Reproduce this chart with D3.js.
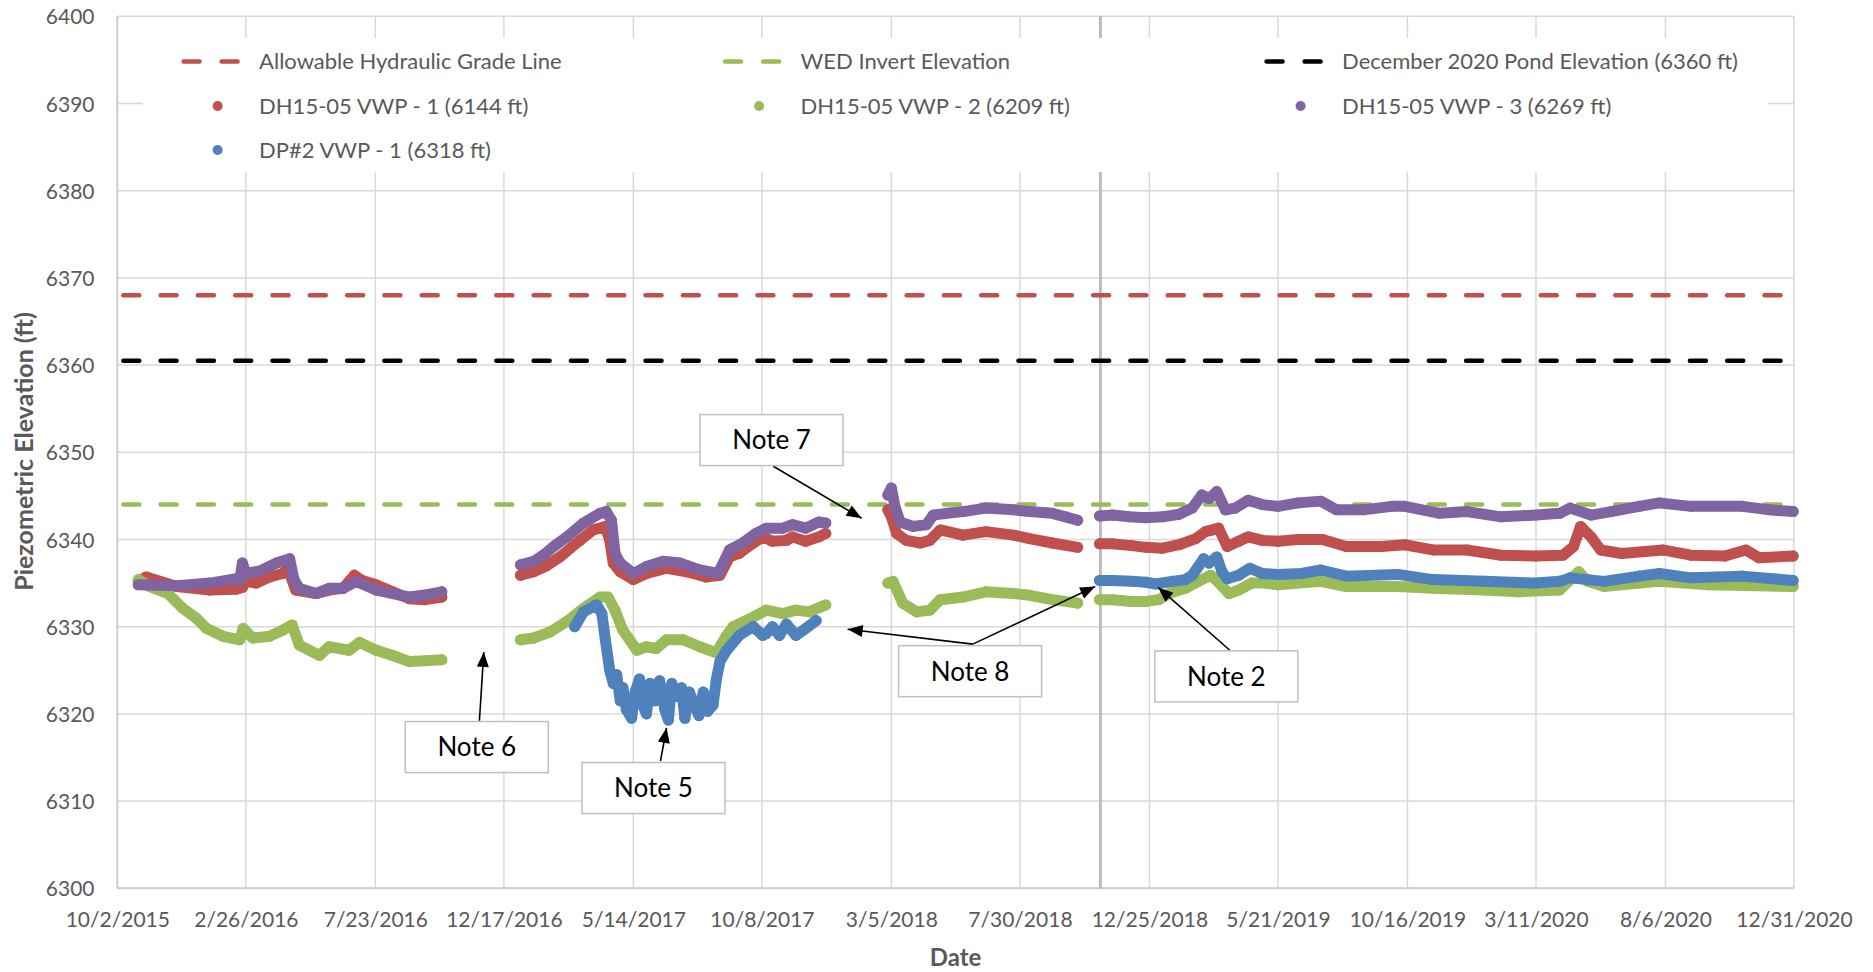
<!DOCTYPE html>
<html><head><meta charset="utf-8">
<script src="https://cdn.jsdelivr.net/npm/d3@7"></script>
<style>
html,body{margin:0;padding:0;background:#fff;}
svg{display:block;font-family:Lato,"Open Sans",sans-serif;}
</style>
</head><body>
<svg id="chart" width="1873" height="972"></svg>
<script>
// ---------------- data ----------------
const xTickLabels = ["10/2/2015","2/26/2016","7/23/2016","12/17/2016","5/14/2017","10/8/2017","3/5/2018","7/30/2018","12/25/2018","5/21/2019","10/16/2019","3/11/2020","8/6/2020","12/31/2020"];
const yTicks = [6300,6310,6320,6330,6340,6350,6360,6370,6380,6390,6400];

const refNames = ["Allowable Hydraulic Grade Line","WED Invert Elevation","December 2020 Pond Elevation (6360 ft)"];
const refValues = [6368.0, 6344.0, 6360.5];

const seriesNames = ["DH15-05 VWP - 1 (6144 ft)","DH15-05 VWP - 2 (6209 ft)","DH15-05 VWP - 3 (6269 ft)","DP#2 VWP - 1 (6318 ft)"];

const vwp1 = [
["2015-10-26",6335.2],["2015-11-04",6335.7],["2015-12-09",6334.6],["2016-01-16",6334.2],["2016-02-15",6334.3],["2016-02-22",6334.5],["2016-02-26",6335.2],["2016-03-09",6335.0],["2016-03-24",6335.7],["2016-04-08",6336.1],["2016-04-14",6336.7],["2016-04-23",6334.2],["2016-05-16",6333.8],["2016-05-31",6334.2],["2016-06-16",6334.4],["2016-06-29",6335.9],["2016-07-08",6335.3],["2016-07-24",6334.8],["2016-08-12",6334.0],["2016-08-31",6333.2],["2016-09-18",6333.1],["2016-10-07",6333.4],
["2016-12-01",null],
["2017-01-05",6335.9],["2017-01-20",6336.3],["2017-02-04",6337.0],["2017-02-19",6338.0],["2017-03-14",6339.9],["2017-03-29",6341.1],["2017-04-12",6341.5],["2017-04-17",6339.9],["2017-04-21",6337.3],["2017-04-29",6336.3],["2017-05-14",6335.4],["2017-05-29",6336.1],["2017-06-21",6336.7],["2017-07-14",6336.3],["2017-08-05",6335.7],["2017-08-21",6335.9],["2017-09-01",6338.0],["2017-09-12",6338.4],["2017-09-28",6339.6],["2017-10-09",6340.3],["2017-10-20",6339.8],["2017-11-05",6339.9],["2017-11-12",6340.3],["2017-11-27",6339.8],["2017-12-12",6340.3],["2017-12-20",6340.7],
["2018-02-01",null],
["2018-03-01",6343.4],["2018-03-05",6342.6],["2018-03-11",6340.7],["2018-03-22",6339.9],["2018-04-07",6339.6],["2018-04-18",6339.9],["2018-04-30",6341.1],["2018-05-26",6340.5],["2018-06-21",6340.9],["2018-07-23",6340.5],["2018-08-10",6340.1],["2018-09-05",6339.6],["2018-10-04",6339.1],
["2018-10-20",null],
["2018-10-29",6339.5],["2018-11-13",6339.5],["2018-12-05",6339.3],["2018-12-21",6339.1],["2019-01-09",6339.0],["2019-01-28",6339.4],["2019-02-16",6340.1],["2019-02-27",6340.9],["2019-03-07",6341.1],["2019-03-14",6341.3],["2019-03-24",6339.2],["2019-04-06",6339.8],["2019-04-17",6340.3],["2019-05-03",6339.9],["2019-05-21",6339.8],["2019-06-13",6340.0],["2019-07-11",6340.0],["2019-08-07",6339.2],["2019-09-16",6339.2],["2019-10-13",6339.4],["2019-11-14",6338.8],["2019-12-23",6338.8],["2020-01-31",6338.2],["2020-03-11",6338.1],["2020-04-11",6338.2],["2020-04-23",6339.2],["2020-05-01",6341.5],["2020-05-13",6340.3],["2020-05-24",6338.8],["2020-06-17",6338.4],["2020-08-03",6338.8],["2020-09-04",6338.2],["2020-10-13",6338.1],["2020-11-06",6338.8],["2020-11-21",6337.9],["2020-12-30",6338.1]
];

const vwp2 = [
["2015-10-26",6335.4],["2015-11-08",6334.6],["2015-11-29",6333.8],["2015-12-16",6332.1],["2015-12-31",6331.0],["2016-01-12",6329.8],["2016-01-31",6328.9],["2016-02-19",6328.5],["2016-02-23",6329.8],["2016-03-05",6328.7],["2016-03-24",6328.9],["2016-04-08",6329.6],["2016-04-19",6330.2],["2016-04-27",6327.9],["2016-05-20",6326.7],["2016-05-31",6327.7],["2016-06-23",6327.3],["2016-07-05",6328.2],["2016-07-24",6327.3],["2016-08-12",6326.7],["2016-08-31",6326.0],["2016-09-18",6326.1],["2016-10-07",6326.2],
["2016-12-01",null],
["2017-01-05",6328.5],["2017-01-20",6328.7],["2017-02-08",6329.4],["2017-02-27",6330.6],["2017-03-18",6332.1],["2017-04-06",6333.4],["2017-04-15",6333.4],["2017-04-23",6331.9],["2017-05-02",6329.6],["2017-05-18",6327.3],["2017-05-29",6327.7],["2017-06-09",6327.5],["2017-06-21",6328.5],["2017-07-10",6328.5],["2017-07-29",6327.7],["2017-08-17",6327.0],["2017-08-28",6328.9],["2017-09-05",6330.0],["2017-09-28",6331.1],["2017-10-13",6331.9],["2017-11-01",6331.5],["2017-11-16",6331.9],["2017-12-01",6331.7],["2017-12-20",6332.5],
["2018-02-01",null],
["2018-03-01",6335.0],["2018-03-07",6335.2],["2018-03-18",6332.7],["2018-04-03",6331.7],["2018-04-18",6331.9],["2018-04-30",6333.1],["2018-05-26",6333.4],["2018-06-21",6334.0],["2018-07-23",6333.8],["2018-08-10",6333.6],["2018-09-05",6333.1],["2018-10-04",6332.7],
["2018-10-20",null],
["2018-10-29",6333.1],["2018-11-13",6333.1],["2018-12-05",6332.9],["2018-12-21",6332.9],["2019-01-05",6333.1],["2019-01-16",6333.8],["2019-02-04",6334.4],["2019-02-19",6335.2],["2019-03-05",6335.9],["2019-03-10",6335.5],["2019-03-26",6333.8],["2019-04-06",6334.2],["2019-04-21",6335.0],["2019-05-06",6335.0],["2019-05-21",6334.8],["2019-07-09",6335.2],["2019-08-07",6334.6],["2019-10-05",6334.6],["2019-11-14",6334.4],["2020-01-12",6334.2],["2020-02-20",6334.0],["2020-04-07",6334.2],["2020-04-29",6336.3],["2020-05-09",6335.2],["2020-05-28",6334.6],["2020-07-07",6335.0],["2020-07-30",6335.2],["2020-09-24",6334.8],["2020-12-30",6334.6]
];

const vwp3 = [
["2015-10-26",6334.8],["2015-12-09",6334.7],["2016-01-16",6335.0],["2016-02-15",6335.5],["2016-02-19",6335.3],["2016-02-22",6337.3],["2016-02-26",6336.1],["2016-03-13",6336.4],["2016-04-01",6337.3],["2016-04-16",6337.8],["2016-04-21",6335.4],["2016-04-27",6334.4],["2016-05-16",6333.8],["2016-05-31",6334.4],["2016-06-16",6334.4],["2016-07-01",6335.2],["2016-07-24",6334.2],["2016-08-12",6333.8],["2016-08-31",6333.4],["2016-09-22",6333.7],["2016-10-07",6334.0],
["2016-12-01",null],
["2017-01-05",6337.1],["2017-01-20",6337.5],["2017-01-31",6338.2],["2017-02-12",6339.2],["2017-02-27",6340.3],["2017-03-18",6341.9],["2017-04-06",6343.0],["2017-04-13",6343.2],["2017-04-19",6342.2],["2017-04-23",6338.4],["2017-04-29",6337.3],["2017-05-14",6336.1],["2017-05-29",6336.9],["2017-06-17",6337.5],["2017-07-06",6337.3],["2017-07-29",6336.5],["2017-08-19",6336.1],["2017-09-01",6338.8],["2017-09-16",6339.6],["2017-10-01",6340.7],["2017-10-13",6341.3],["2017-11-01",6341.3],["2017-11-12",6341.7],["2017-11-27",6341.3],["2017-12-12",6342.0],["2017-12-20",6341.9],
["2018-02-01",null],
["2018-03-01",6345.1],["2018-03-05",6345.9],["2018-03-09",6343.8],["2018-03-15",6342.0],["2018-03-30",6341.5],["2018-04-14",6341.7],["2018-04-22",6342.8],["2018-05-07",6343.0],["2018-05-26",6343.2],["2018-06-21",6343.6],["2018-07-23",6343.4],["2018-08-10",6343.2],["2018-09-05",6343.0],["2018-09-20",6342.6],["2018-10-04",6342.2],
["2018-10-20",null],
["2018-10-29",6342.7],["2018-11-13",6342.8],["2018-12-02",6342.6],["2018-12-21",6342.5],["2019-01-09",6342.6],["2019-01-28",6342.9],["2019-02-12",6343.6],["2019-02-23",6345.1],["2019-03-03",6344.7],["2019-03-12",6345.5],["2019-03-22",6343.4],["2019-04-02",6343.6],["2019-04-17",6344.5],["2019-05-03",6344.0],["2019-05-21",6343.8],["2019-06-13",6344.2],["2019-07-09",6344.4],["2019-07-27",6343.4],["2019-08-27",6343.4],["2019-09-28",6343.8],["2019-10-13",6343.8],["2019-11-22",6343.0],["2019-12-23",6343.2],["2020-01-31",6342.6],["2020-03-11",6342.8],["2020-04-07",6343.0],["2020-04-19",6343.6],["2020-05-13",6342.8],["2020-06-05",6343.2],["2020-07-07",6343.8],["2020-07-30",6344.2],["2020-09-04",6343.8],["2020-11-02",6343.8],["2020-12-03",6343.4],["2020-12-30",6343.2]
];

const dp2 = [
["2017-03-08",6330.0],["2017-03-18",6331.7],["2017-04-02",6332.5],["2017-04-08",6331.5],["2017-04-12",6328.5],["2017-04-17",6325.0],["2017-04-21",6323.5],["2017-04-25",6324.5],["2017-04-29",6321.5],["2017-05-02",6323.0],["2017-05-06",6320.5],["2017-05-12",6319.5],["2017-05-16",6322.5],["2017-05-21",6324.0],["2017-05-25",6321.0],["2017-05-29",6320.0],["2017-06-02",6323.5],["2017-06-08",6321.5],["2017-06-13",6323.8],["2017-06-19",6320.5],["2017-06-23",6319.3],["2017-06-27",6323.5],["2017-07-02",6322.0],["2017-07-08",6323.0],["2017-07-12",6319.5],["2017-07-17",6322.5],["2017-07-23",6321.0],["2017-07-28",6319.8],["2017-08-02",6322.5],["2017-08-07",6320.3],["2017-08-13",6321.0],["2017-08-17",6324.0],["2017-08-21",6326.0],["2017-08-28",6327.2],["2017-09-12",6329.0],["2017-09-28",6330.0],["2017-10-09",6329.0],["2017-10-13",6329.2],["2017-10-20",6330.0],["2017-10-28",6329.0],["2017-11-05",6330.3],["2017-11-16",6329.0],["2017-11-27",6329.8],["2017-12-09",6330.7],
["2018-06-01",null],
["2018-10-29",6335.3],["2018-11-13",6335.3],["2018-12-05",6335.2],["2018-12-21",6335.1],["2019-01-01",6334.9],["2019-01-20",6335.2],["2019-02-04",6335.4],["2019-02-12",6335.9],["2019-02-19",6336.9],["2019-02-25",6337.8],["2019-03-03",6337.3],["2019-03-12",6338.0],["2019-03-18",6336.3],["2019-03-24",6335.5],["2019-04-06",6335.9],["2019-04-19",6336.7],["2019-05-03",6336.1],["2019-05-21",6336.0],["2019-06-17",6336.1],["2019-07-09",6336.5],["2019-08-07",6335.8],["2019-10-05",6336.0],["2019-11-14",6335.4],["2020-01-12",6335.2],["2020-03-11",6335.0],["2020-04-07",6335.2],["2020-04-19",6335.6],["2020-05-09",6335.4],["2020-05-28",6335.2],["2020-07-07",6335.8],["2020-07-30",6336.1],["2020-09-04",6335.6],["2020-11-02",6335.8],["2020-12-30",6335.3]
];

const markerLineDate = "2018-10-30";

const noteLabels = ["Note 7","Note 8","Note 2","Note 6","Note 5"];
const noteCenters = [["2017-10-19",6351.4],["2018-06-03",6324.9],["2019-03-23",6324.3],["2016-11-16",6316.2],["2017-06-06",6311.5]];
const arrowFrom = [["2017-10-21",6348.4],["2018-06-06",6328.0],["2018-06-06",6328.0],["2019-03-27",6327.3],["2016-11-19",6319.2],["2017-06-14",6314.6]];
const arrowTo   = [["2018-01-30",6342.43],["2018-01-14",6329.7],["2018-10-24",6334.6],["2019-01-04",6334.5],["2016-11-24",6327.1],["2017-06-21",6318.4]];

// ---------------- chart ----------------
const plot = {left:117.3, right:1794, top:16.3, bottom:888.3};
const parseTick = d3.timeParse("%m/%d/%Y");
const parseDate = d3.timeParse("%Y-%m-%d");
const textColor = "#595959";
const colors = {red:"#C0504D", green:"#9BBB59", purple:"#8064A2", blue:"#4F81BD", black:"#000000"};
const refColors = [colors.red, colors.green, colors.black];
const seriesColors = [colors.red, colors.green, colors.purple, colors.blue];
const seriesData = [vwp1, vwp2, vwp3, dp2];

const x = d3.scaleTime()
  .domain([parseTick(xTickLabels[0]), parseTick(xTickLabels[xTickLabels.length-1])])
  .range([plot.left, plot.right]);
const y = d3.scaleLinear().domain([6300, 6400]).range([plot.bottom, plot.top]);

const svg = d3.select("#chart");

// gridlines
const grid = svg.append("g");
grid.selectAll("line.h").data(yTicks).join("line")
  .attr("x1", plot.left).attr("x2", plot.right)
  .attr("y1", d => y(d)).attr("y2", d => y(d))
  .attr("stroke", "#d9d9d9").attr("stroke-width", 1.5);
grid.selectAll("line.v").data(xTickLabels).join("line")
  .attr("x1", d => x(parseTick(d))).attr("x2", d => x(parseTick(d)))
  .attr("y1", plot.top).attr("y2", plot.bottom)
  .attr("stroke", "#d9d9d9").attr("stroke-width", 1.5);
svg.append("line").attr("x1", plot.left).attr("x2", plot.left).attr("y1", plot.top).attr("y2", plot.bottom)
  .attr("stroke", "#cfcfcf").attr("stroke-width", 2);
svg.append("line").attr("x1", plot.left).attr("x2", plot.right).attr("y1", plot.bottom).attr("y2", plot.bottom)
  .attr("stroke", "#cfcfcf").attr("stroke-width", 2);

// marker vertical line
svg.append("line")
  .attr("x1", x(parseDate(markerLineDate))).attr("x2", x(parseDate(markerLineDate)))
  .attr("y1", plot.top).attr("y2", plot.bottom)
  .attr("stroke", "#bcbcbc").attr("stroke-width", 3);

// axes labels
const yAxis = d3.axisLeft(y).tickValues(yTicks).tickFormat(d3.format("d")).tickSize(0).tickPadding(22.8);
const gy = svg.append("g").attr("transform", `translate(${plot.left},0)`).call(yAxis);
gy.select(".domain").remove();
gy.selectAll("text").attr("fill", textColor).style("font-size", "21px").style("font-family", "Lato").attr("dy", "0.36em");

const xAxis = d3.axisBottom(x).tickValues(xTickLabels.map(parseTick))
  .tickFormat((d, i) => xTickLabels[i]).tickSize(0).tickPadding(0);
const gx = svg.append("g").attr("transform", `translate(0,${plot.bottom})`).call(xAxis);
gx.select(".domain").remove();
gx.selectAll("text").attr("fill", textColor).style("font-size", "21px").style("font-family", "Lato")
  .attr("y", 0).attr("dy", 0).attr("transform", "translate(0,39)");

// axis titles
svg.append("text").attr("transform", `translate(33,451.5) rotate(-90)`)
  .attr("text-anchor", "middle").attr("fill", textColor)
  .style("font-size", "25px").style("font-weight", "bold").text("Piezometric Elevation (ft)");
svg.append("text").attr("x", (plot.left+plot.right)/2).attr("y", 966)
  .attr("text-anchor", "middle").attr("fill", textColor)
  .style("font-size", "24px").style("font-weight", "bold").text("Date");

// reference lines
const domain = x.domain();
svg.append("g").selectAll("line").data(refValues).join("line")
  .attr("x1", x(domain[0])).attr("x2", x(domain[1]))
  .attr("y1", d => y(d)).attr("y2", d => y(d))
  .attr("stroke", (d, i) => refColors[i]).attr("stroke-width", 4.5)
  .attr("stroke-linecap", "round").attr("stroke-dasharray", "16 21.3").attr("stroke-dashoffset", -6);

// series
const line = d3.line().defined(d => d[1] != null)
  .x(d => x(parseDate(d[0]))).y(d => y(d[1])).curve(d3.curveLinear);
const gs = svg.append("g");
seriesData.forEach((data, i) => {
  const g = gs.append("g");
  g.append("path").datum(data).attr("d", line)
    .attr("fill", "none").attr("stroke", seriesColors[i]).attr("stroke-width", 11)
    .attr("stroke-linecap", "round").attr("stroke-linejoin", "round");
  g.selectAll("circle").data(data.filter(d => d[1] != null)).join("circle")
    .attr("cx", d => x(parseDate(d[0]))).attr("cy", d => y(d[1])).attr("r", 5.5)
    .attr("fill", seriesColors[i]);
});

// legend
const leg = svg.append("g");
leg.append("rect").attr("x", 143).attr("y", 38).attr("width", 1768-143).attr("height", 172-38).attr("fill", "#fff");
const legendItems = [
  {name: refNames[0], color: refColors[0], type: "dash"},
  {name: refNames[1], color: refColors[1], type: "dash"},
  {name: refNames[2], color: refColors[2], type: "dash"},
  {name: seriesNames[0], color: seriesColors[0], type: "dot"},
  {name: seriesNames[1], color: seriesColors[1], type: "dot"},
  {name: seriesNames[2], color: seriesColors[2], type: "dot"},
  {name: seriesNames[3], color: seriesColors[3], type: "dot"}
];
const colX = [181.6, 723.1, 1264.6], rowY = [61.5, 106, 150];
legendItems.forEach((it, k) => {
  const cx = colX[k % 3], cy = rowY[Math.floor(k / 3)];
  if (it.type === "dash") {
    leg.append("line").attr("x1", cx + 2).attr("x2", cx + 56).attr("y1", cy).attr("y2", cy)
      .attr("stroke", it.color).attr("stroke-width", 4.5).attr("stroke-linecap", "round")
      .attr("stroke-dasharray", "16 22");
  } else {
    leg.append("circle").attr("cx", cx + 36).attr("cy", cy).attr("r", 5).attr("fill", it.color);
  }
  leg.append("text").attr("x", cx + 77.5).attr("y", cy).attr("dy", "0.36em")
    .attr("fill", textColor).style("font-size", "22px").text(it.name);
});

// notes
const defs = svg.append("defs");
defs.append("marker").attr("id", "arrowhead").attr("viewBox", "-16 -7 17 14")
  .attr("refX", 0).attr("refY", 0).attr("markerWidth", 17).attr("markerHeight", 14)
  .attr("markerUnits", "userSpaceOnUse").attr("orient", "auto")
  .append("path").attr("d", "M0,0 L-15,-6 L-15,6 Z").attr("fill", "#000");
const gn = svg.append("g");
arrowFrom.forEach((f, i) => {
  const t = arrowTo[i];
  gn.append("line")
    .attr("x1", x(parseDate(f[0]))).attr("y1", y(f[1]))
    .attr("x2", x(parseDate(t[0]))).attr("y2", y(t[1]))
    .attr("stroke", "#000").attr("stroke-width", 1.6).attr("marker-end", "url(#arrowhead)");
});
const boxW = 143, boxH = 51;
noteLabels.forEach((lab, i) => {
  const cx = x(parseDate(noteCenters[i][0])), cy = y(noteCenters[i][1]);
  gn.append("rect").attr("x", cx - boxW/2).attr("y", cy - boxH/2).attr("width", boxW).attr("height", boxH)
    .attr("fill", "#fff").attr("stroke", "#bfbfbf").attr("stroke-width", 1.5);
  gn.append("text").attr("x", cx).attr("y", cy).attr("dy", "0.36em").attr("text-anchor", "middle")
    .attr("fill", "#000").style("font-size", "26px").text(lab);
});
</script>
</body></html>
